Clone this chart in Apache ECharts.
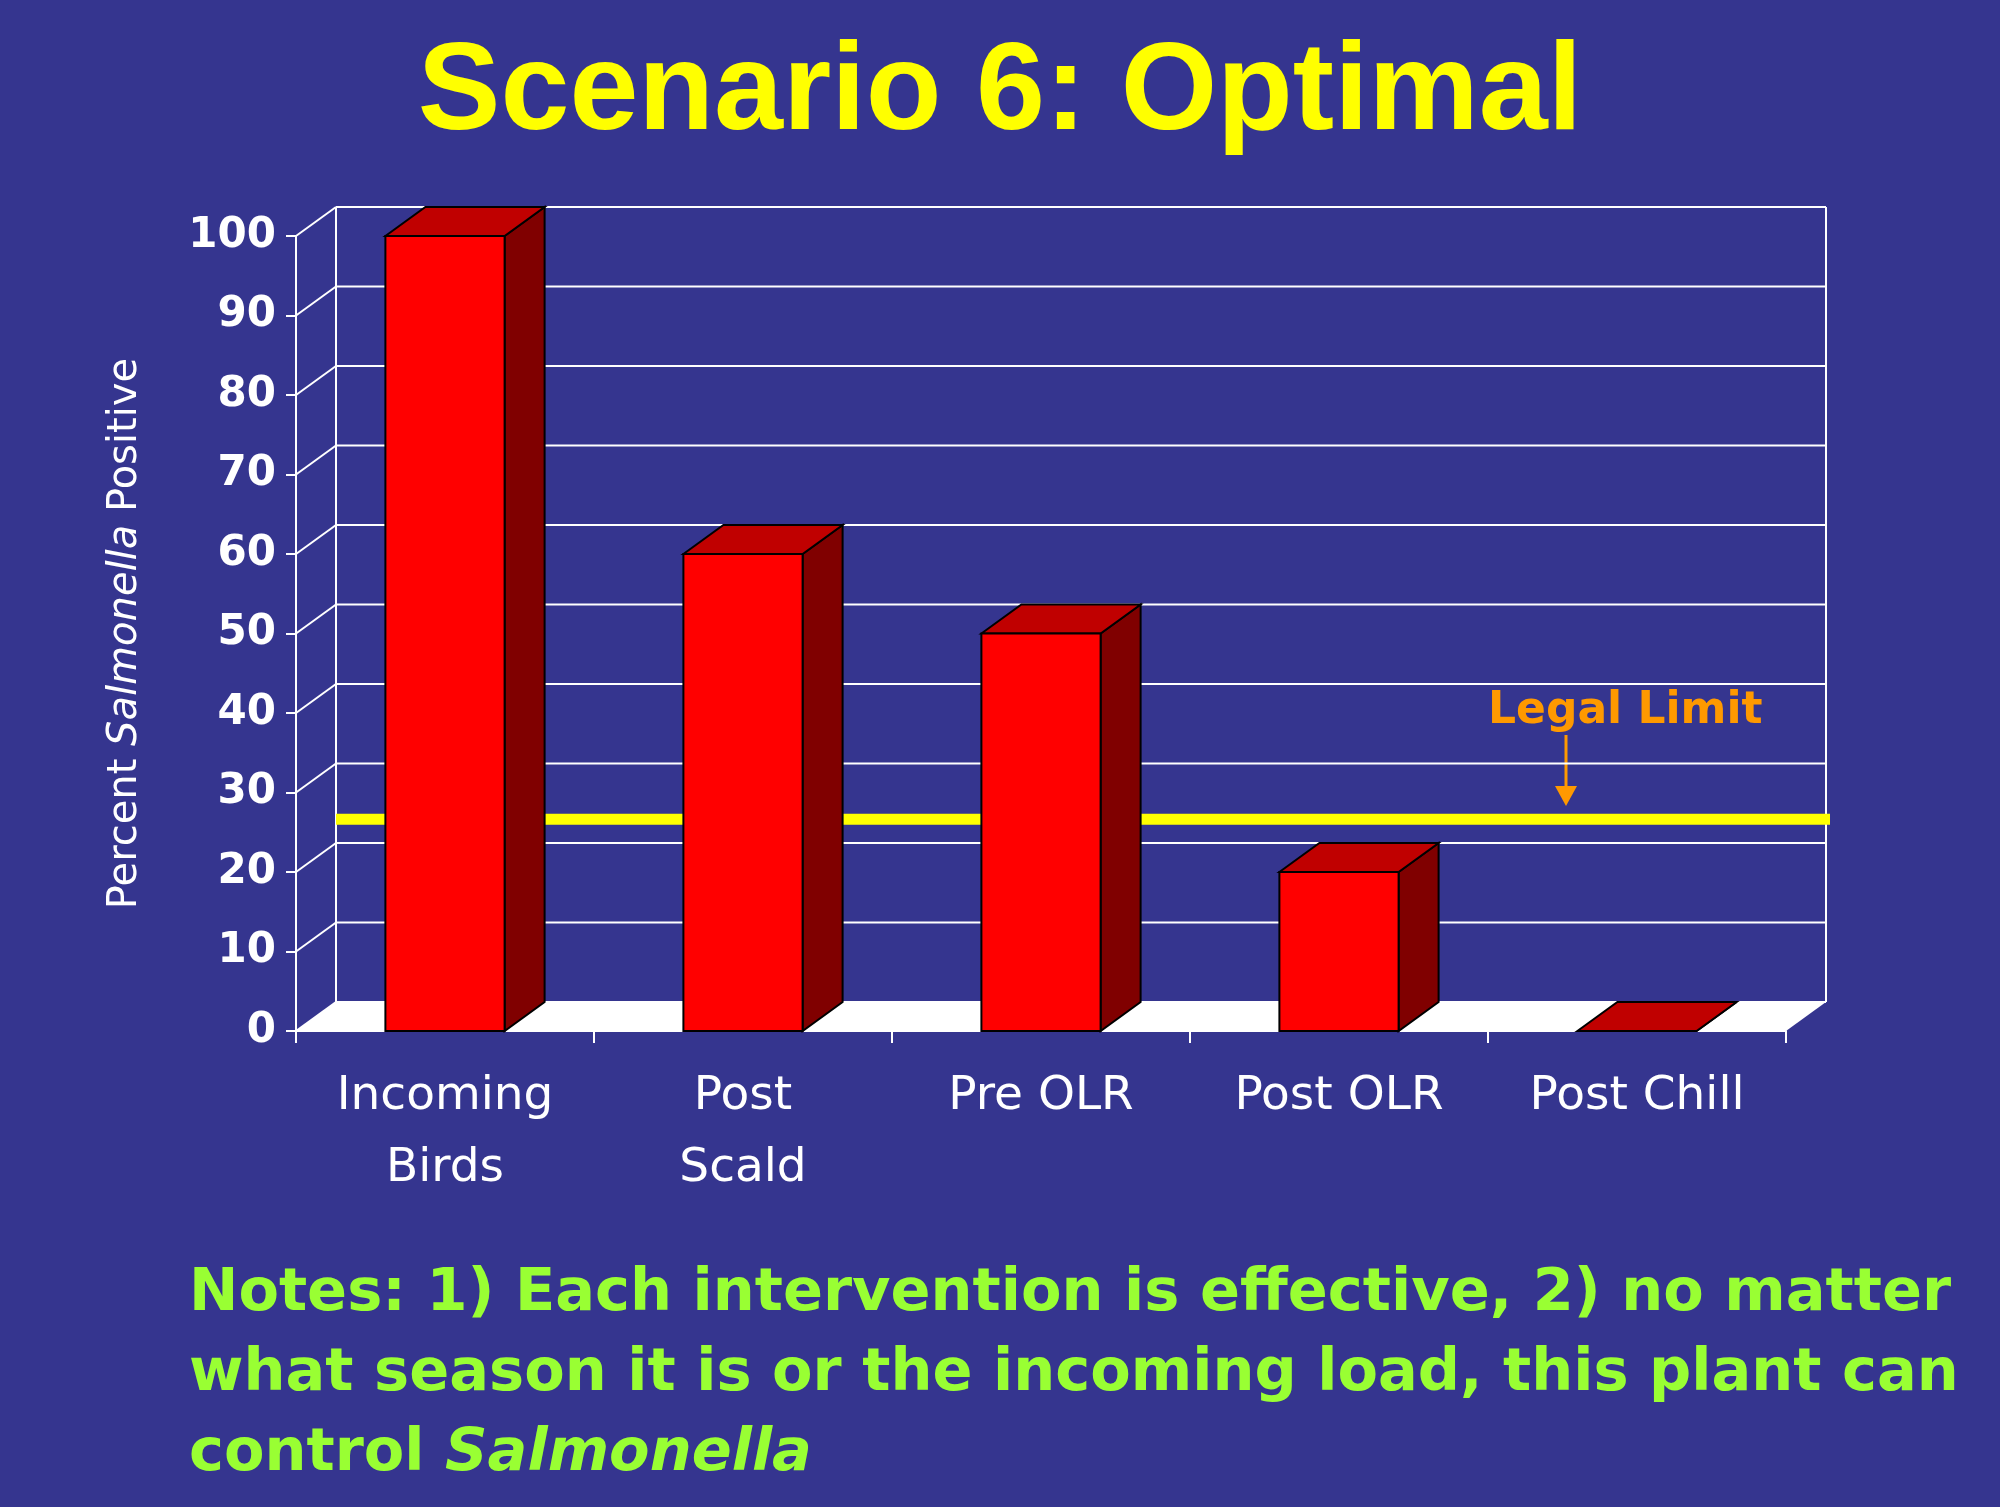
<!DOCTYPE html>
<html><head><meta charset="utf-8">
<script src="https://cdn.jsdelivr.net/npm/echarts@6/dist/echarts.min.js"></script>
<style>html,body{margin:0;padding:0;background:#35358F}#c{width:2000px;height:1507px}</style>
</head><body><div id="c"></div>
<script>
// data
var categories = ['Incoming\nBirds', 'Post\nScald', 'Pre OLR', 'Post OLR', 'Post Chill']
var values = [100, 60, 50, 20, 0]
var ticks = [0, 10, 20, 30, 40, 50, 60, 70, 80, 90, 100]
var legalLimit = [23]

var DX = 40, DY = -29  // depth of the 3d box
var chart = echarts.init(document.getElementById('c'))

// back wall, floor and gridlines
function renderWall(params, api) {
  var cs = params.coordSys
  var v = api.value(0)
  var y = api.coord([0, v])[1]
  var x0 = cs.x, x1 = cs.x + cs.width
  var kids = [
    { type: 'line', shape: { x1: x0, y1: y, x2: x0 + DX, y2: y + DY }, style: { stroke: '#fff', lineWidth: 2 } },
    { type: 'line', shape: { x1: x0 + DX, y1: y + DY, x2: x1 + DX, y2: y + DY }, style: { stroke: '#fff', lineWidth: 2 } }
  ]
  if (v === 0) {
    kids.unshift({ type: 'polygon', shape: { points: [[x0, y], [x0 + DX, y + DY], [x1 + DX, y + DY], [x1, y]] }, style: { fill: '#fff' } })
    var top = api.coord([0, 100])[1]
    kids.push({ type: 'line', shape: { x1: x0 + DX, y1: y + DY, x2: x0 + DX, y2: top + DY }, style: { stroke: '#fff', lineWidth: 2 } })
    kids.push({ type: 'line', shape: { x1: x1 + DX, y1: y + DY, x2: x1 + DX, y2: top + DY }, style: { stroke: '#fff', lineWidth: 2 } })
  }
  return { type: 'group', children: kids }
}

function renderBar(params, api) {
  var p = api.coord([api.value(0), api.value(1)])
  var base = api.coord([api.value(0), 0])[1]
  var w = api.size([1, 0])[0] * 0.4
  var l = p[0] - w / 2, r = p[0] + w / 2, t = p[1]
  var st = { stroke: '#000', lineWidth: 2 }
  return { type: 'group', children: [
    { type: 'polygon', shape: { points: [[r, t], [r + DX, t + DY], [r + DX, base + DY], [r, base]] }, style: Object.assign({ fill: '#800000' }, st) },
    { type: 'polygon', shape: { points: [[l, t], [l + DX, t + DY], [r + DX, t + DY], [r, t]] }, style: Object.assign({ fill: '#C00000' }, st) },
    { type: 'rect', shape: { x: l, y: t, width: w, height: base - t }, style: Object.assign({ fill: '#FF0000' }, st) }
  ] }
}

function renderLimit(params, api) {
  var cs = params.coordSys
  var y = api.coord([0, api.value(0)])[1] + DY
  return { type: 'line', shape: { x1: cs.x + DX, y1: y, x2: cs.x + cs.width + DX + 4, y2: y }, style: { stroke: '#FFFF00', lineWidth: 11 } }
}

var option = {
  backgroundColor: '#35358F',
  title: {
    text: 'Scenario 6: Optimal', left: 'center', top: 28,
    textStyle: { color: '#FFFF00', fontSize: 124, fontWeight: 'bold', fontFamily: 'Liberation Sans' }
  },
  grid: { left: 296, right: 214, top: 236, bottom: 476 },
  xAxis: {
    type: 'category', data: categories,
    axisLine: { lineStyle: { color: '#fff', width: 2 } },
    axisTick: { show: true, inside: false, length: 12, lineStyle: { color: '#fff', width: 2 } },
    axisLabel: { color: '#fff', fontSize: 47, fontWeight: 500, fontFamily: 'DejaVu Sans', margin: 30, lineHeight: 72 }
  },
  yAxis: {
    type: 'value', min: 0, max: 100, interval: 10,
    name: '{n|Percent }{i|Salmonella}{n| Positive}', nameLocation: 'middle', nameGap: 150, nameRotate: 90,
    nameTextStyle: { rich: {
      n: { color: '#fff', fontSize: 40, fontFamily: 'DejaVu Sans' },
      i: { color: '#fff', fontSize: 40, fontStyle: 'italic', fontFamily: 'DejaVu Sans' }
    } },
    axisLine: { show: true, lineStyle: { color: '#fff', width: 2 } },
    axisTick: { show: true, length: 10, lineStyle: { color: '#fff', width: 2 } },
    axisLabel: { color: '#fff', fontSize: 42, fontWeight: 'bold', fontFamily: 'DejaVu Sans', margin: 20 },
    splitLine: { show: false }
  },
  series: [
    { type: 'custom', renderItem: renderWall, data: ticks.map(function (t) { return [t] }), z: 1, silent: true },
    { type: 'custom', renderItem: renderLimit, data: legalLimit.map(function (t) { return [t] }), z: 2, silent: true },
    { type: 'custom', renderItem: renderBar, data: values.map(function (v, i) { return [i, v] }), z: 3 }
  ],
  graphic: [
    { type: 'text', left: 1488, top: 690, style: { text: 'Legal Limit', fill: '#FF9900', font: 'bold 44px "DejaVu Sans"' } },
    { type: 'line', shape: { x1: 1566, y1: 735, x2: 1566, y2: 790 }, style: { stroke: '#FF9900', lineWidth: 3 } },
    { type: 'polygon', shape: { points: [[1555, 786], [1577, 786], [1566, 806]] }, style: { fill: '#FF9900' } },
    { type: 'text', left: 189, top: 1265, style: {
      rich: {
        g: { fill: '#99FF33', font: 'bold 59px "DejaVu Sans"', lineHeight: 80 },
        gi: { fill: '#99FF33', font: 'italic bold 59px "DejaVu Sans"', lineHeight: 80 }
      },
      text: '{g|Notes: 1) Each intervention is effective, 2) no matter}\n{g|what season it is or the incoming load, this plant can}\n{g|control }{gi|Salmonella}'
    } }
  ]
}
chart.setOption(option)
</script></body></html>
